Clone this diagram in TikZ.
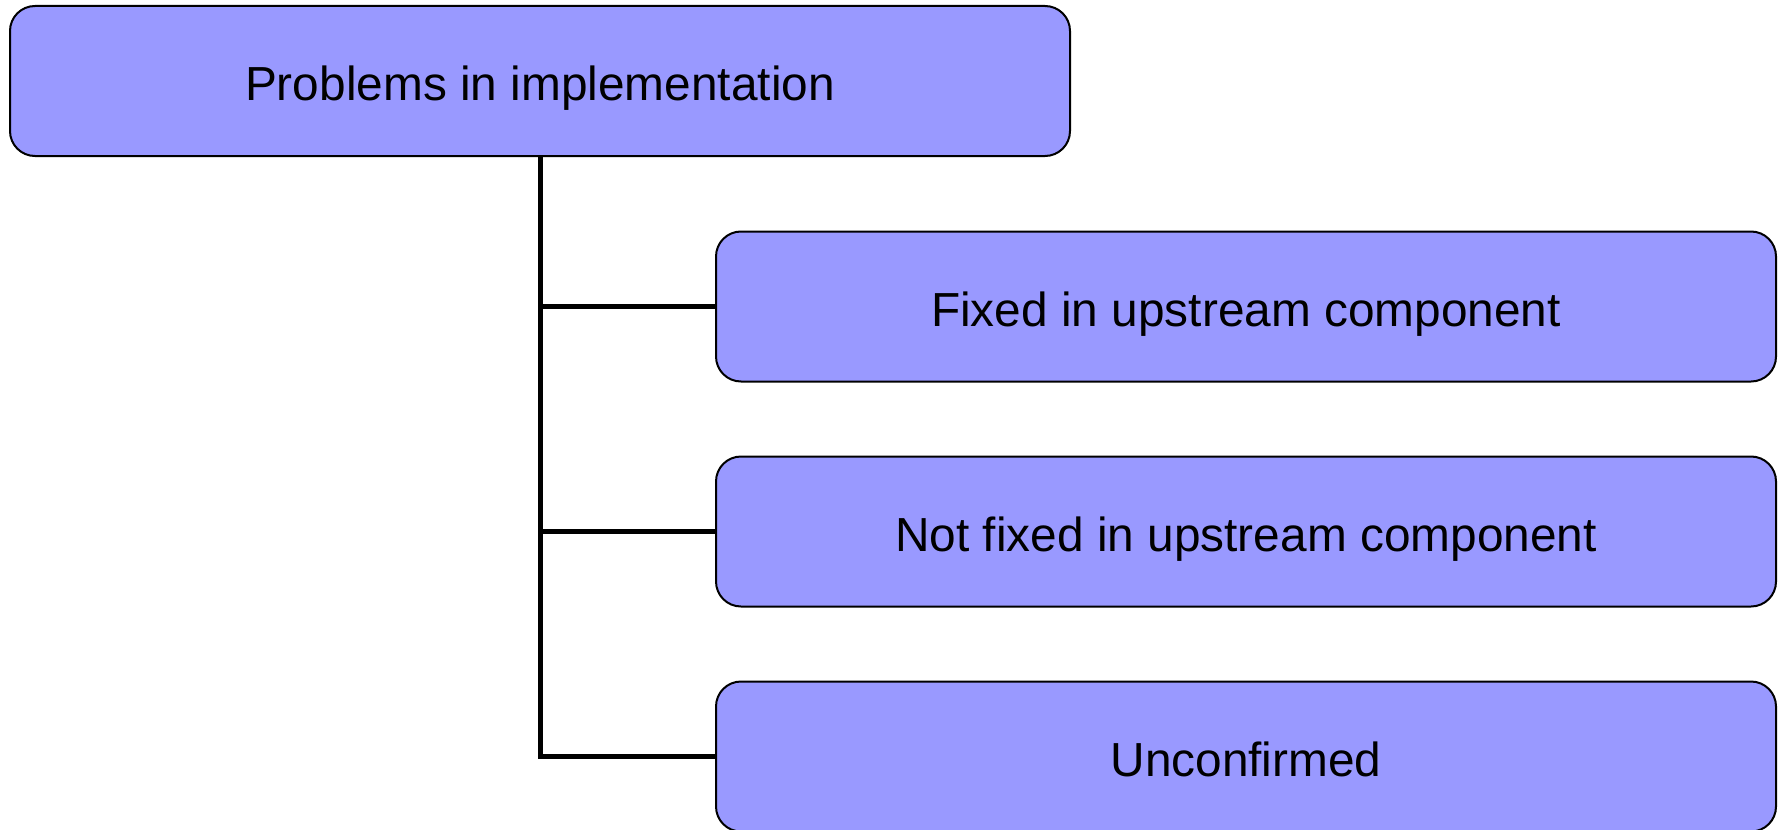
\documentclass[tikz,border=0pt]{standalone}
\usepackage{fontspec}
\setmainfont{Liberation Sans}
\usepackage{tikz}
\usetikzlibrary{positioning}
\definecolor{boxblue}{RGB}{153,153,255}
\tikzset{
  probbox/.style={draw=black, line width=1pt, fill=boxblue, rounded corners=12.5pt,
    minimum width=530pt, minimum height=75pt, inner sep=0pt,
    text height=20pt, text depth=0pt,
    font=\fontsize{23.9}{28}\selectfont},
  branch/.style={line width=2.5pt}
}

\begin{document}
\begin{tikzpicture}[x=0.5pt,y=0.5pt]
	  \useasboundingbox (0,0) rectangle (1781,-829);
	  % Draw the root box
	  \node (problems) [probbox] at (540,-81) {Problems in implementation};
	  % Draw the three child boxes
	  \node (fixed) [probbox] at (1246,-306.5) {Fixed in upstream component};
	  \node (notfixed) [probbox] at (1246,-531.5) {Not fixed in upstream component};
	  \node (unconfirmed) [probbox] at (1246,-756.5) {Unconfirmed};
	  % Draw the tree lines
	  \draw [branch] (problems.south) |- (unconfirmed.west);
	  \draw [branch] (problems.south |- fixed.west) -- (fixed.west);
	  \draw [branch] (problems.south |- notfixed.west) -- (notfixed.west);
      \end{tikzpicture}
\end{document}
